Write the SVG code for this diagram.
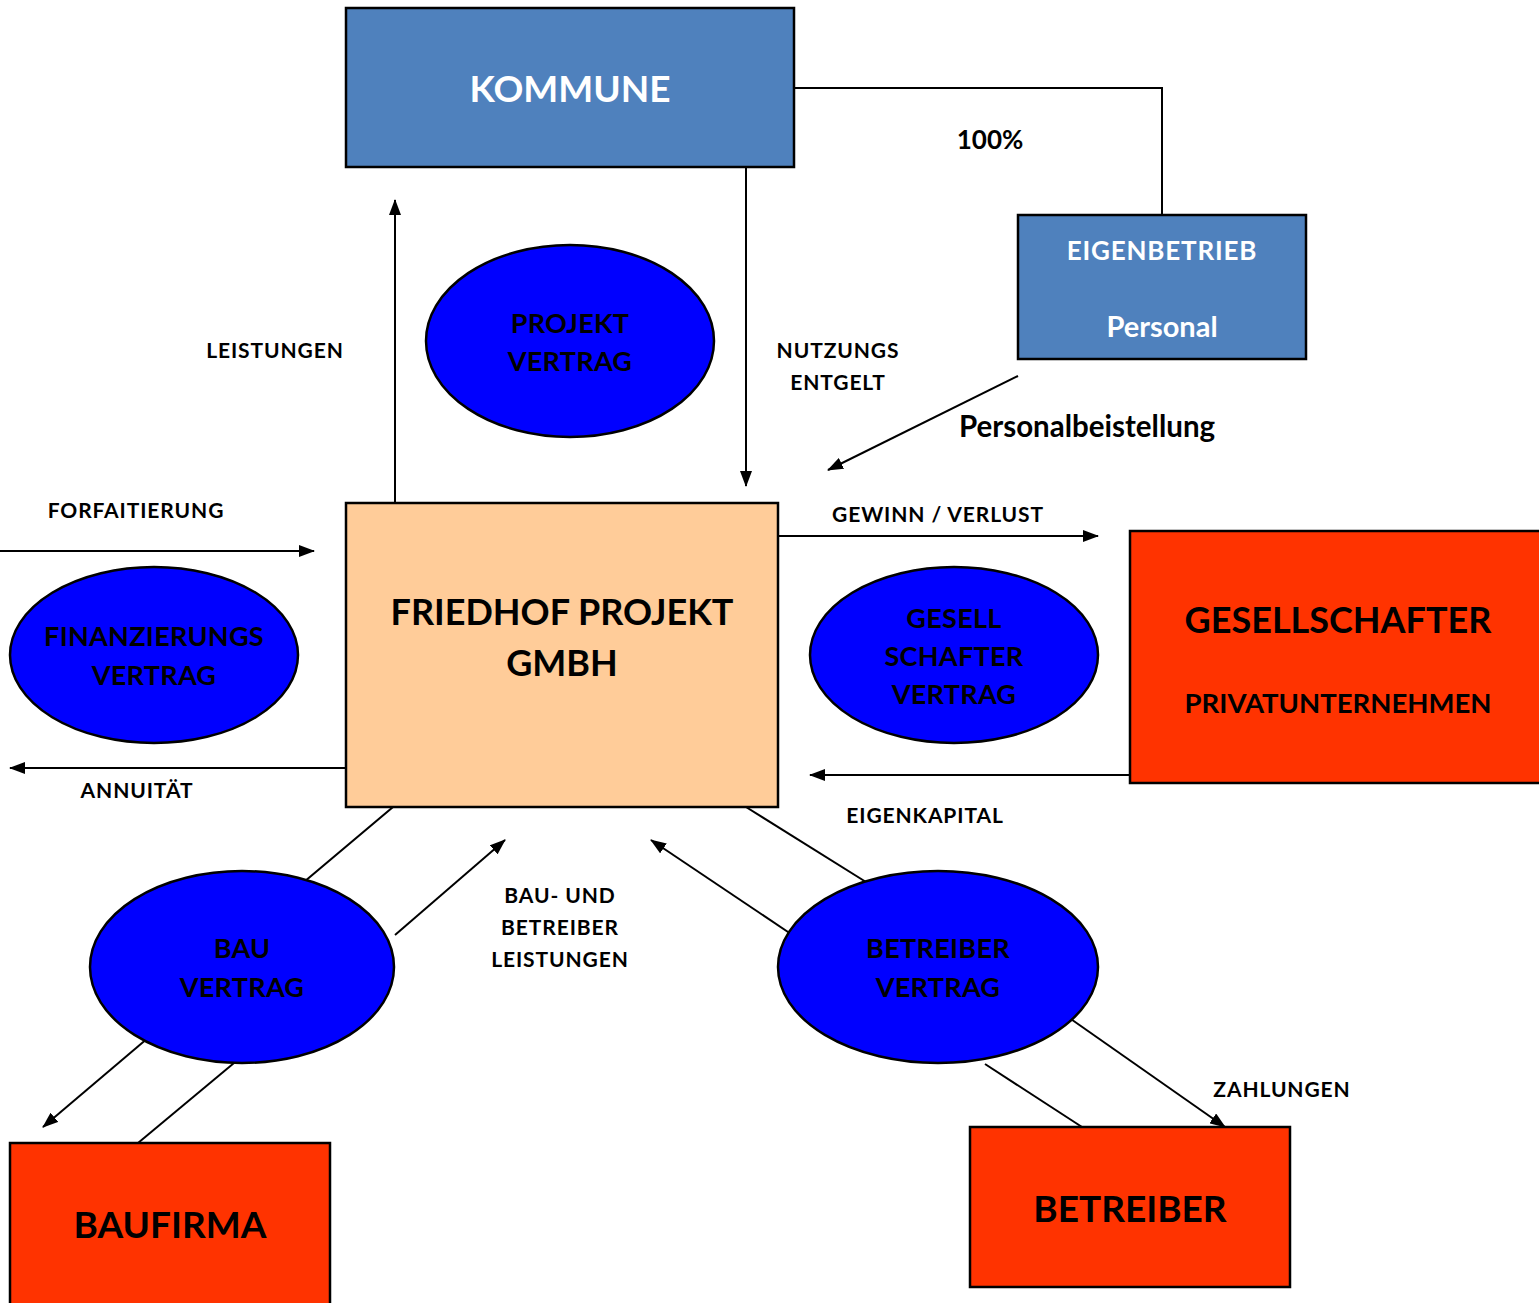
<svg xmlns="http://www.w3.org/2000/svg" width="1539" height="1303" viewBox="0 0 1539 1303">
<style>
text{font-family:Lato,"Open Sans","Liberation Sans",sans-serif;font-weight:bold;text-anchor:middle}
.box{stroke:#000;stroke-width:2.5}
.blue{fill:#4F81BD}
.red{fill:#FF3300}
.peach{fill:#FFCC99}
.ell{fill:#0000FF;stroke:#000;stroke-width:2.5}
.w{fill:#fff}
.k{fill:#000}
.lbl{font-size:21px;letter-spacing:0.9px;fill:#000}
.ct{font-size:27px;letter-spacing:0.3px;fill:#000}
.big{font-size:37px;fill:#000}
.con{stroke:#000;stroke-width:2;fill:none}
</style>
<defs>
<marker id="ah" markerWidth="16" markerHeight="12" refX="15" refY="6" orient="auto" markerUnits="userSpaceOnUse">
<path d="M0,0 L16,6 L0,12 Z" fill="#000"/>
</marker>
</defs>
<g id="connectors">
<polyline class="con" points="794,88 1162,88 1162,215"/>
<line class="con" x1="746" y1="167" x2="746" y2="486" marker-end="url(#ah)"/>
<line class="con" x1="395" y1="503" x2="395" y2="200" marker-end="url(#ah)"/>
<line class="con" x1="1018" y1="376" x2="828" y2="470" marker-end="url(#ah)"/>
<line class="con" x1="0" y1="551" x2="314" y2="551" marker-end="url(#ah)"/>
<line class="con" x1="346" y1="768" x2="10" y2="768" marker-end="url(#ah)"/>
<line class="con" x1="778" y1="536" x2="1098" y2="536" marker-end="url(#ah)"/>
<line class="con" x1="1130" y1="775" x2="810" y2="775" marker-end="url(#ah)"/>
<line class="con" x1="393" y1="807" x2="298" y2="887"/>
<line class="con" x1="395" y1="935" x2="505" y2="840" marker-end="url(#ah)"/>
<line class="con" x1="155" y1="1032" x2="43" y2="1127" marker-end="url(#ah)"/>
<line class="con" x1="234" y1="1063" x2="138" y2="1143"/>
<line class="con" x1="746" y1="807" x2="874" y2="887"/>
<line class="con" x1="791" y1="934" x2="651" y2="840" marker-end="url(#ah)"/>
<line class="con" x1="1068" y1="1017" x2="1225" y2="1127" marker-end="url(#ah)"/>
<line class="con" x1="985" y1="1064" x2="1082" y2="1127"/>
<text class="k" x="990" y="149" style="font-size:26px">100%</text>
<text class="lbl" x="275" y="358">LEISTUNGEN</text>
<text class="lbl" x="838" y="358">NUTZUNGS</text>
<text class="lbl" x="838" y="390">ENTGELT</text>
<text class="k" x="1087" y="437" style="font-size:29.5px">Personalbeistellung</text>
<text class="lbl" x="136" y="518">FORFAITIERUNG</text>
<text class="lbl" x="137" y="798">ANNUITÄT</text>
<text class="lbl" x="938" y="522">GEWINN / VERLUST</text>
<text class="lbl" x="925" y="823">EIGENKAPITAL</text>
<text class="lbl" x="560" y="903">BAU- UND</text>
<text class="lbl" x="560" y="935">BETREIBER</text>
<text class="lbl" x="560" y="967">LEISTUNGEN</text>
<text class="lbl" x="1282" y="1097">ZAHLUNGEN</text>
</g>
<g id="kommune">
<rect class="box blue" x="346" y="8" width="448" height="159"/>
<text class="w" x="570" y="102" style="font-size:37px">KOMMUNE</text>
</g>
<g id="eigenbetrieb">
<rect class="box blue" x="1018" y="215" width="288" height="144"/>
<text class="w" x="1162" y="260" style="font-size:26px;letter-spacing:0.8px">EIGENBETRIEB</text>
<text class="w" x="1162" y="337" style="font-size:29px">Personal</text>
</g>
<g id="projektvertrag">
<ellipse class="ell" cx="570" cy="341" rx="144" ry="96"/>
<text class="ct" x="570" y="333">PROJEKT</text>
<text class="ct" x="570" y="371">VERTRAG</text>
</g>
<g id="friedhof">
<rect class="box peach" x="346" y="503" width="432" height="304"/>
<text class="big" x="562" y="625" style="font-size:36px">FRIEDHOF PROJEKT</text>
<text class="big" x="562" y="676" style="font-size:36px">GMBH</text>
</g>
<g id="finanzierungsvertrag">
<ellipse class="ell" cx="154" cy="655" rx="144" ry="88"/>
<text class="ct" x="154" y="646">FINANZIERUNGS</text>
<text class="ct" x="154" y="685">VERTRAG</text>
</g>
<g id="gesellschaftervertrag">
<ellipse class="ell" cx="954" cy="655" rx="144" ry="88"/>
<text class="ct" x="954" y="628">GESELL</text>
<text class="ct" x="954" y="666">SCHAFTER</text>
<text class="ct" x="954" y="704">VERTRAG</text>
</g>
<g id="gesellschafter">
<rect class="box red" x="1130" y="531" width="415" height="252"/>
<text class="big" x="1338" y="633" style="font-size:36px">GESELLSCHAFTER</text>
<text class="k" x="1338" y="713" style="font-size:27.5px">PRIVATUNTERNEHMEN</text>
</g>
<g id="bauvertrag">
<ellipse class="ell" cx="242" cy="967" rx="152" ry="96"/>
<text class="ct" x="242" y="958">BAU</text>
<text class="ct" x="242" y="997">VERTRAG</text>
</g>
<g id="baufirma">
<rect class="box red" x="10" y="1143" width="320" height="170"/>
<text class="big" x="170" y="1238">BAUFIRMA</text>
</g>
<g id="betreibervertrag">
<ellipse class="ell" cx="938" cy="967" rx="160" ry="96"/>
<text class="ct" x="938" y="958">BETREIBER</text>
<text class="ct" x="938" y="997">VERTRAG</text>
</g>
<g id="betreiber">
<rect class="box red" x="970" y="1127" width="320" height="160"/>
<text class="big" x="1130" y="1222">BETREIBER</text>
</g>
</svg>
